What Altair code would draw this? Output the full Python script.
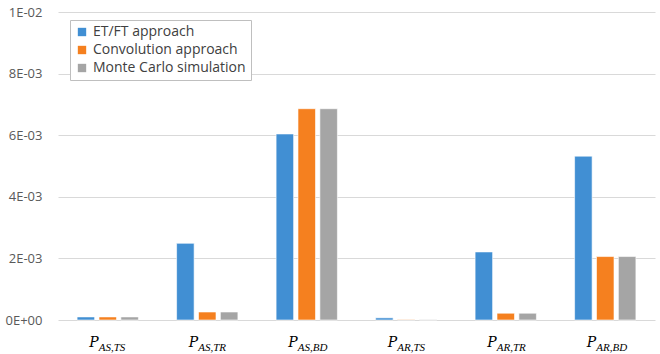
import altair as alt
import pandas as pd

categories = ["AS,TS", "AS,TR", "AS,BD", "AR,TS", "AR,TR", "AR,BD"]
series = ["ET/FT approach", "Convolution approach", "Monte Carlo simulation"]
et_ft = [1.0e-4, 2.49e-3, 6.04e-3, 7.0e-5, 2.21e-3, 5.32e-3]
convolution = [1.0e-4, 2.6e-4, 6.86e-3, 1.5e-5, 2.2e-4, 2.06e-3]
monte_carlo = [1.0e-4, 2.6e-4, 6.86e-3, 1.0e-5, 2.2e-4, 2.06e-3]
colors = ["#418FD3", "#F5801F", "#A5A5A5"]
y_ticks = [0, 0.002, 0.004, 0.006, 0.008, 0.01]
y_tick_labels = ["0E+00", "2E-03", "4E-03", "6E-03", "8E-03", "1E-02"]

rows = []
for vals, s in zip([et_ft, convolution, monte_carlo], series):
    for c, v in zip(categories, vals):
        rows.append({"cat": c, "series": s, "value": v})
df = pd.DataFrame(rows)
lab = pd.DataFrame({"cat": categories, "P": ["P"] * len(categories)})

label_expr = "[" + ",".join(f"'{t}'" for t in y_tick_labels) + "][round(datum.value/0.002)]"

xscale = alt.Scale(domain=categories, paddingInner=0.34, paddingOuter=0.17)

bars = alt.Chart(df).mark_bar(stroke="white", strokeWidth=0.6).encode(
    x=alt.X("cat:N", scale=xscale, sort=categories,
            axis=alt.Axis(title=None, labels=False, ticks=False, domain=False)),
    xOffset=alt.XOffset("series:N", sort=series,
                        scale=alt.Scale(domain=series, paddingInner=0.2, paddingOuter=0.1)),
    y=alt.Y("value:Q", scale=alt.Scale(domain=[0, 0.01], nice=False),
            axis=alt.Axis(title=None, values=y_ticks, labelExpr=label_expr,
                          domain=False, ticks=False, labelPadding=16,
                          labelFontSize=13, labelColor="#595959", labelFont="Open Sans",
                          gridColor="#D9D9D9", gridWidth=1.2)),
    color=alt.Color("series:N", sort=series,
                    scale=alt.Scale(domain=series, range=colors),
                    legend=alt.Legend(title=None, orient="none", legendX=12, legendY=8,
                                      symbolType="square", symbolSize=70,
                                      labelFontSize=14, labelColor="#404040",
                                      labelFont="Open Sans",
                                      strokeColor="#BFBFBF", fillColor="white",
                                      padding=5, rowPadding=4, labelOffset=4,
                                      symbolStrokeWidth=0)),
)

ptext = alt.Chart(lab).mark_text(
    font="DejaVu Serif", fontStyle="italic", fontSize=14, align="right",
    baseline="alphabetic", dx=-9, color="#000000"
).encode(x=alt.X("cat:N", scale=xscale, sort=categories), y=alt.value(335), text="P:N")

subtext = alt.Chart(lab).mark_text(
    font="Liberation Serif", fontStyle="italic", fontSize=11, align="left",
    baseline="alphabetic", dx=-9, color="#000000"
).encode(x=alt.X("cat:N", scale=xscale, sort=categories), y=alt.value(339), text="cat:N")

chart = alt.layer(bars, ptext, subtext).properties(
    width=597, height=308,
    autosize=alt.AutoSizeParams(type="none"),
    padding={"left": 58, "top": 12, "right": 5, "bottom": 34},
).configure_view(stroke=None)

chart.save("out.html", embed_options={"renderer": "svg", "actions": False})
